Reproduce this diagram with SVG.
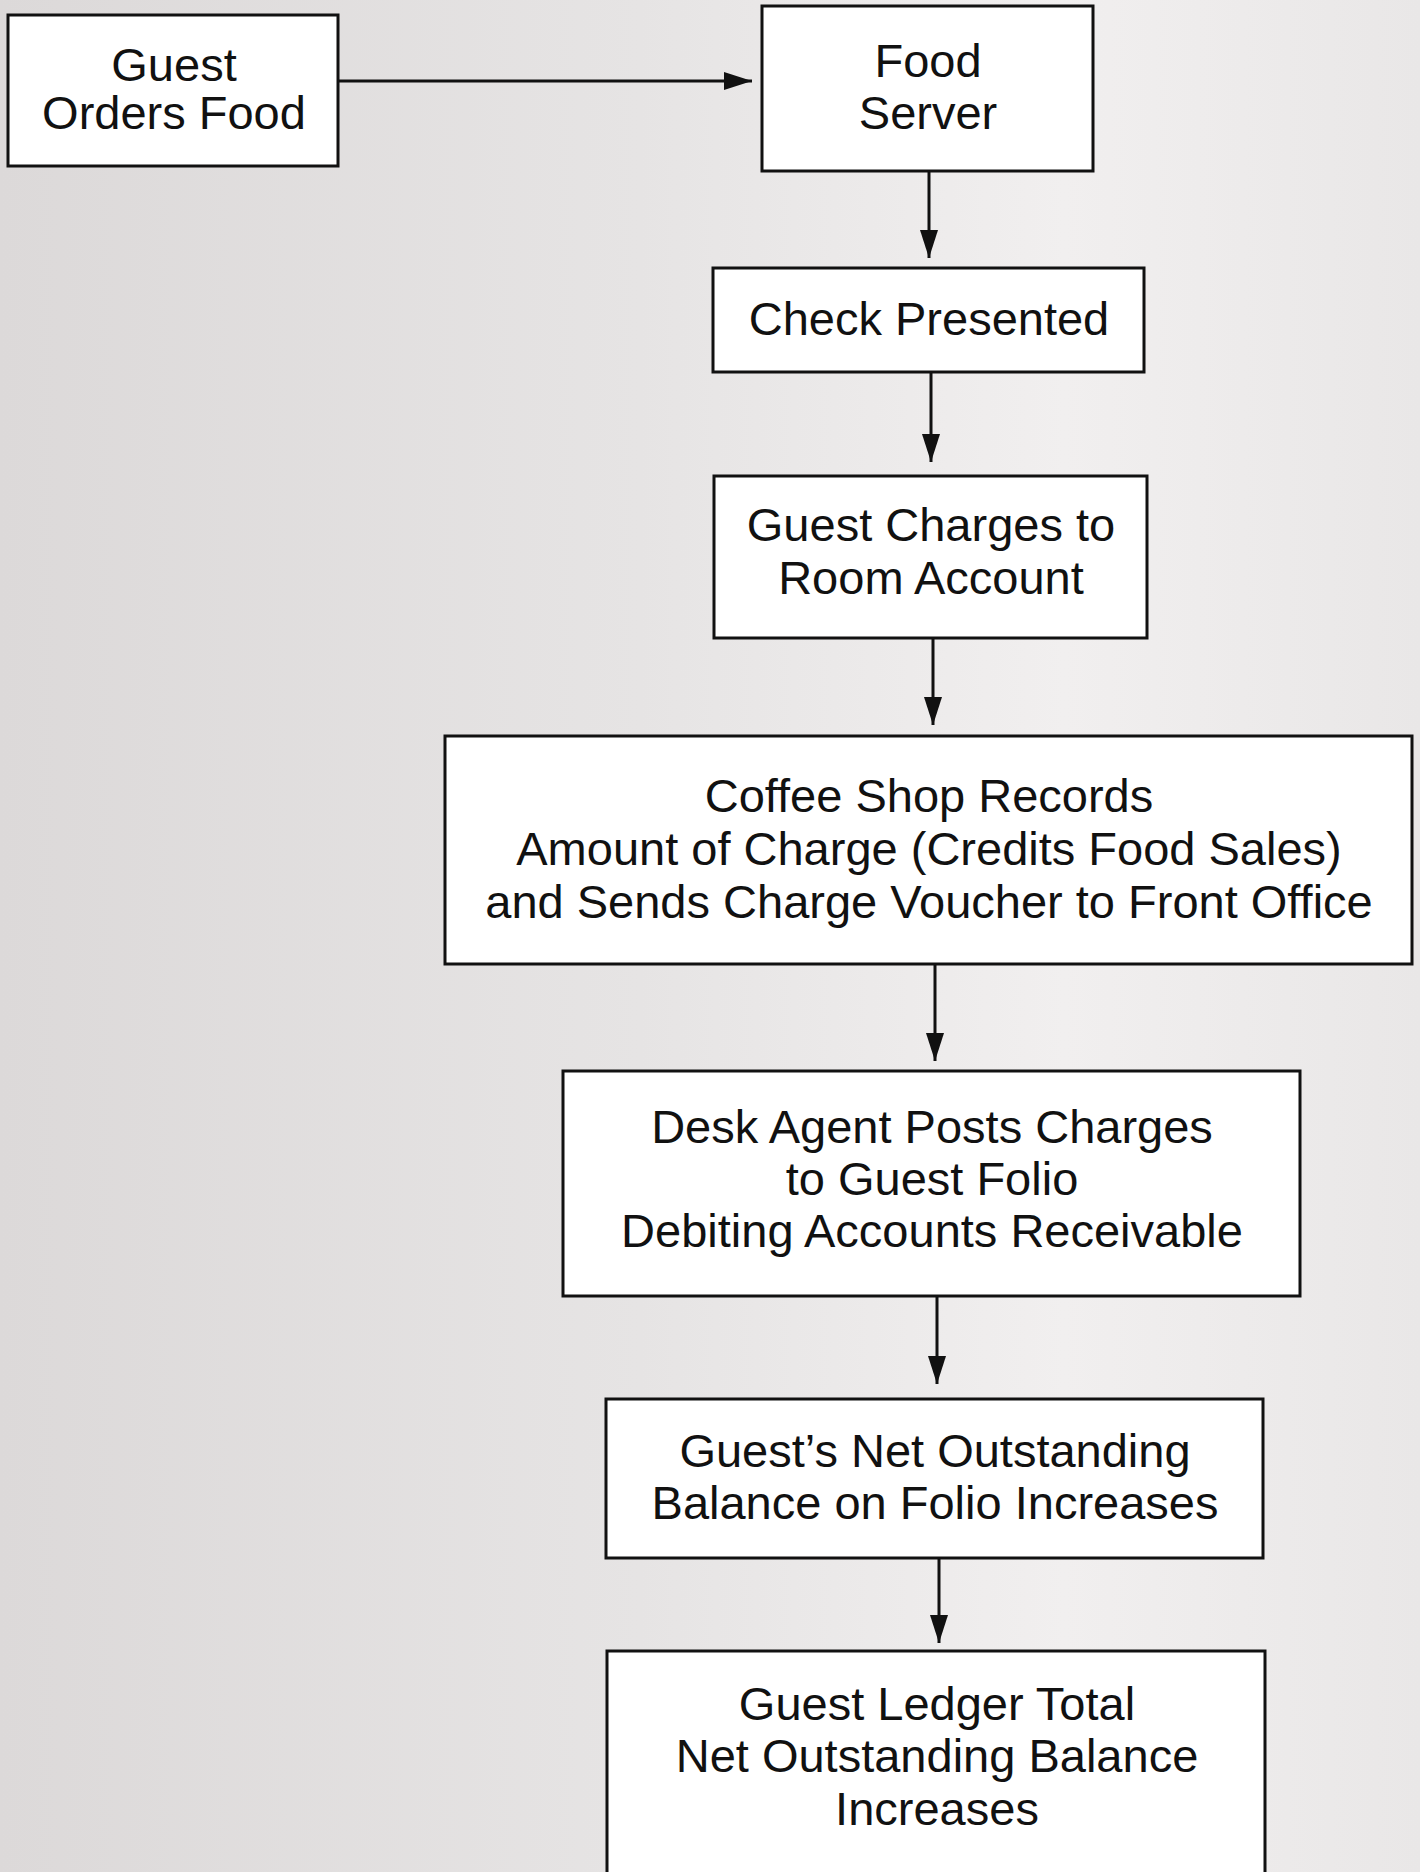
<svg xmlns="http://www.w3.org/2000/svg" width="1420" height="1872" viewBox="0 0 1420 1872">
  <defs>
    <linearGradient id="bg" x1="0" y1="0" x2="1" y2="0">
      <stop offset="0" stop-color="#dcd9d9"/>
      <stop offset="0.45" stop-color="#e6e4e4"/>
      <stop offset="0.75" stop-color="#f1efef"/>
      <stop offset="1" stop-color="#e9e7e7"/>
    </linearGradient>
    <marker id="arrow" markerUnits="userSpaceOnUse" markerWidth="28" markerHeight="18" viewBox="0 0 28 18" refX="28" refY="9" orient="auto">
      <path d="M0,0 L28,9 L0,18 Z" fill="#111"/>
    </marker>
  </defs>
  <style>
    .box { fill: #ffffff; stroke: #111111; stroke-width: 3; }
    .lbl { font-family: "Liberation Sans", Arial, Helvetica, sans-serif; font-size: 47px; fill: #111111; text-anchor: middle; }
    .conn { stroke: #111111; stroke-width: 3; fill: none; }
  </style>
  <rect x="0" y="0" width="1420" height="1872" fill="url(#bg)"/>

  <g id="connectors">
    <line class="conn" x1="338" y1="81" x2="752" y2="81" marker-end="url(#arrow)"/>
    <line class="conn" x1="929" y1="172" x2="929" y2="258" marker-end="url(#arrow)"/>
    <line class="conn" x1="931" y1="372" x2="931" y2="462" marker-end="url(#arrow)"/>
    <line class="conn" x1="933" y1="638" x2="933" y2="725" marker-end="url(#arrow)"/>
    <line class="conn" x1="935" y1="964" x2="935" y2="1061" marker-end="url(#arrow)"/>
    <line class="conn" x1="937" y1="1296" x2="937" y2="1384" marker-end="url(#arrow)"/>
    <line class="conn" x1="939" y1="1558" x2="939" y2="1643" marker-end="url(#arrow)"/>
  </g>

  <g id="node-guest-orders-food">
    <rect class="box" x="8" y="15" width="330" height="151"/>
    <text class="lbl" x="174" y="81">Guest</text>
    <text class="lbl" x="174" y="129">Orders Food</text>
  </g>

  <g id="node-food-server">
    <rect class="box" x="762" y="6" width="331" height="165"/>
    <text class="lbl" x="928" y="77">Food</text>
    <text class="lbl" x="928" y="129">Server</text>
  </g>

  <g id="node-check-presented">
    <rect class="box" x="713" y="268" width="431" height="104"/>
    <text class="lbl" x="929" y="335">Check Presented</text>
  </g>

  <g id="node-guest-charges">
    <rect class="box" x="714" y="476" width="433" height="162"/>
    <text class="lbl" x="931" y="541">Guest Charges to</text>
    <text class="lbl" x="931" y="594">Room Account</text>
  </g>

  <g id="node-coffee-shop">
    <rect class="box" x="445" y="736" width="967" height="228"/>
    <text class="lbl" x="929" y="812">Coffee Shop Records</text>
    <text class="lbl" x="929" y="865">Amount of Charge (Credits Food Sales)</text>
    <text class="lbl" x="929" y="918">and Sends Charge Voucher to Front Office</text>
  </g>

  <g id="node-desk-agent">
    <rect class="box" x="563" y="1071" width="737" height="225"/>
    <text class="lbl" x="932" y="1143">Desk Agent Posts Charges</text>
    <text class="lbl" x="932" y="1195">to Guest Folio</text>
    <text class="lbl" x="932" y="1247">Debiting Accounts Receivable</text>
  </g>

  <g id="node-net-outstanding">
    <rect class="box" x="606" y="1399" width="657" height="159"/>
    <text class="lbl" x="935" y="1467">Guest’s Net Outstanding</text>
    <text class="lbl" x="935" y="1519">Balance on Folio Increases</text>
  </g>

  <g id="node-guest-ledger">
    <rect class="box" x="607" y="1651" width="658" height="240"/>
    <text class="lbl" x="937" y="1720">Guest Ledger Total</text>
    <text class="lbl" x="937" y="1772">Net Outstanding Balance</text>
    <text class="lbl" x="937" y="1825">Increases</text>
  </g>
</svg>
